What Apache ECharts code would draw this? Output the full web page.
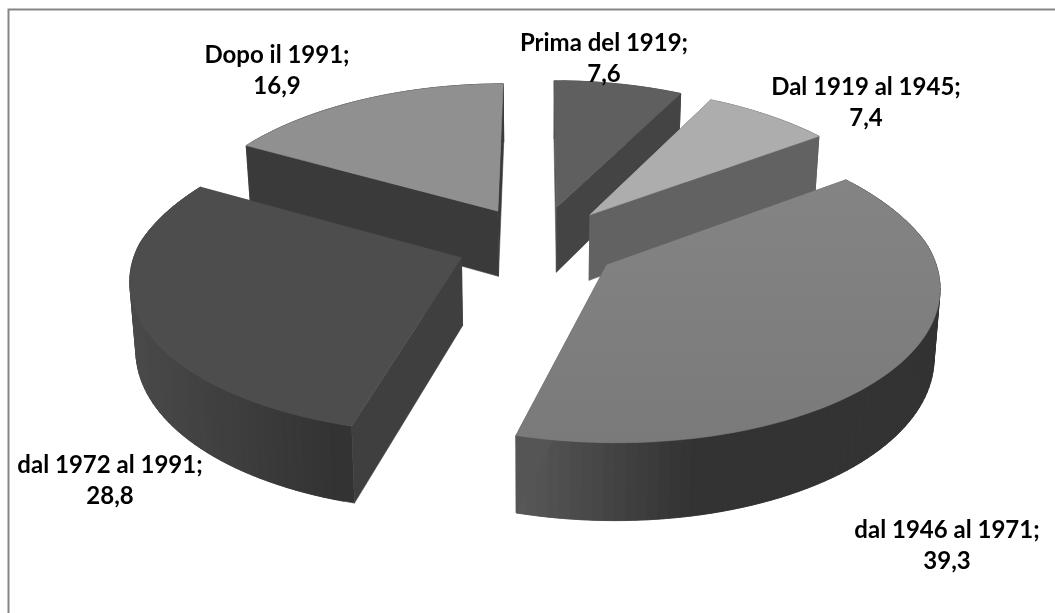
<!DOCTYPE html>
<html>
<head>
<meta charset="utf-8">
<style>
  html, body { margin: 0; padding: 0; background: #fff; }
  #chart { width: 1055px; height: 613px; }
</style>
<script src="https://cdn.jsdelivr.net/npm/echarts@6/dist/echarts.min.js"></script>
</head>
<body>
<div id="chart"></div>
<script>
// dati
var categories = ["Prima del 1919", "Dal 1919 al 1945", "dal 1946 al 1971", "dal 1972 al 1991", "Dopo il 1991"];
var values = [7.6, 7.4, 39.3, 28.8, 16.9];

// layout, separato dai dati
var labelCenters = [[604, 43], [866, 87], [947, 530], [110, 465], [277, 55]];
var drawOrder = [4, 0, 1, 3, 2];
var topColors = ["#5f5f5f", "#adadad", ["#848484", "#7a7a7a"], "#4d4d4d", "#909090"];
var rimColors = [[85, 74], [106, 90], [92, 51], [74, 51], [58, 58]];
var rimStops = [1, 1, 0.45, 1, 1];
var startFaceColors = ["#555555", "#5c5c5c", "#666666", "#3f3f3f", "#3a3a3a"];
var endFaceColors = ["#444444", "#626262", "#555555", "#3f3f3f", "#3a3a3a"];

// proiezione prospettica della torta
var cx = 538, cy = 243, scaleX = 82, scaleY = 38, persp = 0.031, perspBack = 0.04;
var radius = 3.95, explode = 1, depth = 67, bottomShrink = 0.985;

var total = values.reduce(function (a, b) { return a + b; }, 0);

function project(x, y, bottom) {
  var w = 1 + persp * y;
  var wx = 1 + (y > 0 ? perspBack : persp) * y;
  var sx = scaleX * x / wx;
  var sy = cy - scaleY * y / w;
  if (bottom) {
    sx = sx * bottomShrink;
    sy = sy + depth / w;
  }
  return [cx + sx, sy];
}

function fill(c) {
  if (typeof c === "string") return c;
  return new echarts.graphic.LinearGradient(0, 0, 0, 1, [
    { offset: 0, color: c[0] },
    { offset: 1, color: c[1] },
  ]);
}

function poly(points, color, z2) {
  var f = fill(color);
  return {
    type: "polygon",
    z2: z2,
    shape: { points: points },
    style: { fill: f, stroke: f, lineWidth: 0.6 },
  };
}

function grey(v) {
  var g = Math.round(v);
  return "rgb(" + g + "," + g + "," + g + ")";
}

function renderSlice(params) {
  var i = params.dataIndex;
  var before = 0;
  for (var n = 0; n < i; n++) before += values[n];
  var a0 = (before / total) * 2 * Math.PI;
  var a1 = ((before + values[i]) / total) * 2 * Math.PI;
  var mid = (a0 + a1) / 2;
  var ox = explode * Math.sin(mid);
  var oy = explode * Math.cos(mid);

  var topRim = [];
  var bottomRim = [];
  var steps = Math.ceil((a1 - a0) / 0.03);
  var minX = Infinity, maxX = -Infinity;
  for (var s = 0; s <= steps; s++) {
    var t = a0 + ((a1 - a0) * s) / steps;
    var x = ox + radius * Math.sin(t);
    var y = oy + radius * Math.cos(t);
    var pt = project(x, y, false);
    topRim.push(pt);
    bottomRim.push(project(x, y, true));
    minX = Math.min(minX, pt[0]);
    maxX = Math.max(maxX, pt[0]);
  }
  var apexTop = project(ox, oy, false);
  var apexBottom = project(ox, oy, true);
  var base = drawOrder.indexOf(i) * 10;
  var children = [];

  // fianco esterno a strisce sovrapposte, sfumato da sinistra a destra
  for (var q = steps - 1; q >= 0; q--) {
    var e = Math.min(q + 2, steps);
    var f = Math.min(1, ((topRim[q][0] - minX) / (maxX - minX)) / rimStops[i]);
    var c = rimColors[i][0] + (rimColors[i][1] - rimColors[i][0]) * f;
    children.push(poly([topRim[q], topRim[e], bottomRim[e], bottomRim[q]], grey(c), base + 1));
  }
  children.push(poly([apexTop, topRim[0], bottomRim[0], apexBottom], startFaceColors[i], base + 2));
  children.push(poly([apexTop, topRim[steps], bottomRim[steps], apexBottom], endFaceColors[i], base + 3));
  children.push(poly([apexTop].concat(topRim), topColors[i], base + 4));
  children.push({
    type: "text",
    z2: 100,
    style: {
      text: categories[i] + ";\n" + values[i].toFixed(1).replace(".", ","),
      x: labelCenters[i][0],
      y: labelCenters[i][1] - 15,
      align: "center",
      verticalAlign: "top",
      fill: "#000",
      font: "bold 24px Lato",
      lineHeight: 31,
    },
  });
  return { type: "group", children: children };
}

var myChart = echarts.init(document.getElementById("chart"));
var option = {
  animation: false,
  backgroundColor: "#fff",
  graphic: [
    {
      type: "polyline",
      shape: { points: [[8.5, 613], [8.5, 9.5], [1055, 9.5]] },
      style: { fill: "none", stroke: "#868686", lineWidth: 2 },
      silent: true,
    },
  ],
  series: [
    {
      type: "custom",
      coordinateSystem: "none",
      renderItem: renderSlice,
      data: values,
    },
  ],
};
myChart.setOption(option);
</script>
</body>
</html>
